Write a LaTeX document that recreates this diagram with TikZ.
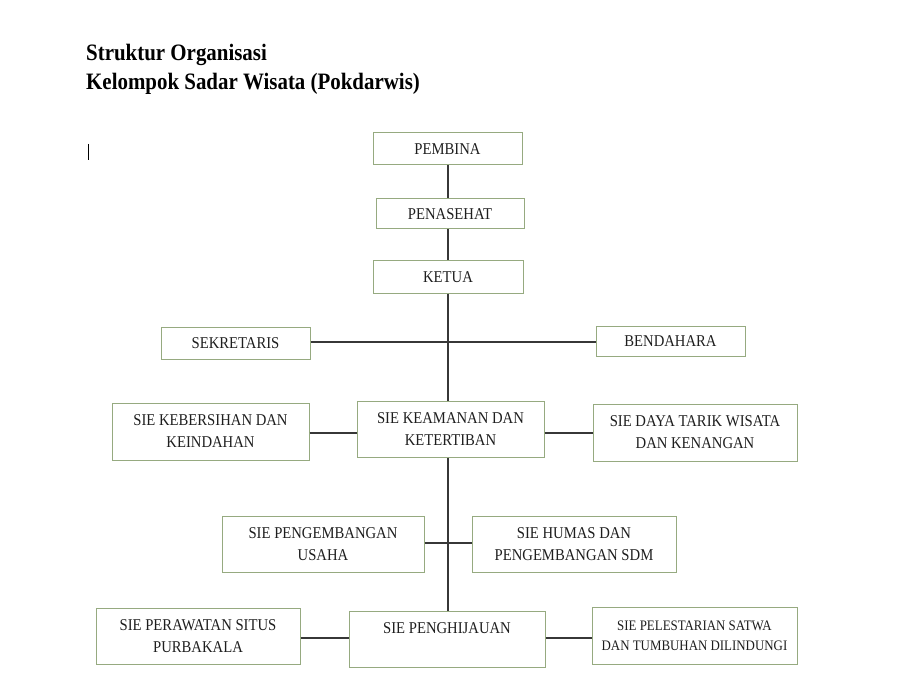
\documentclass[tikz,border=0pt]{standalone}
\usepackage{fontspec}
\setmainfont[FakeStretch=0.89]{Liberation Serif}
\definecolor{boxgreen}{RGB}{150,170,128}
\definecolor{linec}{RGB}{55,55,55}
\definecolor{txtc}{RGB}{30,30,30}
\begin{document}
\begin{tikzpicture}[x=1pt,y=-1pt,
  box/.style={draw=boxgreen, line width=1pt, fill=white, align=center, text=txtc,
    font=\fontsize{16.5}{22}\selectfont, inner sep=0pt},
  smallbox/.style={box, font=\fontsize{14.5}{20}\selectfont},
  conn/.style={draw=linec, line width=1.2pt},
  title/.style={anchor=base west, inner sep=0pt, text=black,
    font=\bfseries\fontsize{23.5}{28}\selectfont}]
\useasboundingbox (0,0) rectangle (899,700);
\fill[white] (0,0) rectangle (899,700);

% titles
\node[title] (t1) at (86,61) {Struktur Organisasi};
\node[title] (t2) at (86,90) {Kelompok Sadar Wisata (Pokdarwis)};
% text cursor
\draw[black, line width=1pt] (88,144) -- (88,160);

% boxes
\node[box, minimum width=149pt, minimum height=32pt] (pembina) at (447.5,149) {PEMBINA};
\node[box, minimum width=148pt, minimum height=30pt] (penasehat) at (450,214) {PENASEHAT};
\node[box, minimum width=150pt, minimum height=33pt] (ketua) at (448,277) {KETUA};
\node[box, minimum width=149pt, minimum height=31pt] (sekretaris) at (235.5,343.5) {SEKRETARIS};
\node[box, minimum width=149pt, minimum height=29pt] (bendahara) at (670.5,341.5) {BENDAHARA};

\node[box, minimum width=197pt, minimum height=57pt] (kebersihan) at (210.5,431.5) {SIE KEBERSIHAN DAN\\KEINDAHAN};
\node[box, minimum width=187pt, minimum height=56pt] (keamanan) at (450.5,429) {SIE KEAMANAN DAN\\KETERTIBAN};
\node[box, minimum width=204pt, minimum height=57pt] (dayatarik) at (695,432.5) {SIE DAYA TARIK WISATA\\DAN KENANGAN};

\node[box, minimum width=202pt, minimum height=56pt] (usaha) at (323,544) {SIE PENGEMBANGAN\\USAHA};
\node[box, minimum width=204pt, minimum height=56pt] (humas) at (574,544) {SIE HUMAS DAN\\PENGEMBANGAN SDM};

\node[box, minimum width=204pt, minimum height=56pt] (perawatan) at (198,636) {SIE PERAWATAN SITUS\\PURBAKALA};
\node[box, minimum width=196pt, minimum height=56pt] (penghijauan) at (447,639) {SIE PENGHIJAUAN\\\phantom{X}};
\node[smallbox, minimum width=205pt, minimum height=57pt] (pelestarian) at (694.5,635.5) {SIE PELESTARIAN SATWA\\DAN TUMBUHAN DILINDUNGI};

% spine
\coordinate (spine) at (448,0);
\draw[conn] (spine |- pembina.south) -- (spine |- penasehat.north);
\draw[conn] (spine |- penasehat.south) -- (spine |- ketua.north);
\draw[conn] (spine |- ketua.south) -- (spine |- keamanan.north);
\draw[conn] (spine |- keamanan.south) -- (spine |- penghijauan.north);

% horizontal connectors
\coordinate (ysek) at (0,342);
\draw[conn] (sekretaris.east |- ysek) -- (bendahara.west |- ysek);
\coordinate (ykeam) at (0,433);
\draw[conn] (kebersihan.east |- ykeam) -- (keamanan.west |- ykeam);
\draw[conn] (keamanan.east |- ykeam) -- (dayatarik.west |- ykeam);
\coordinate (yusa) at (0,543);
\draw[conn] (usaha.east |- yusa) -- (humas.west |- yusa);
\coordinate (ypeng) at (0,638);
\draw[conn] (perawatan.east |- ypeng) -- (penghijauan.west |- ypeng);
\draw[conn] (penghijauan.east |- ypeng) -- (pelestarian.west |- ypeng);
\end{tikzpicture}
\end{document}
